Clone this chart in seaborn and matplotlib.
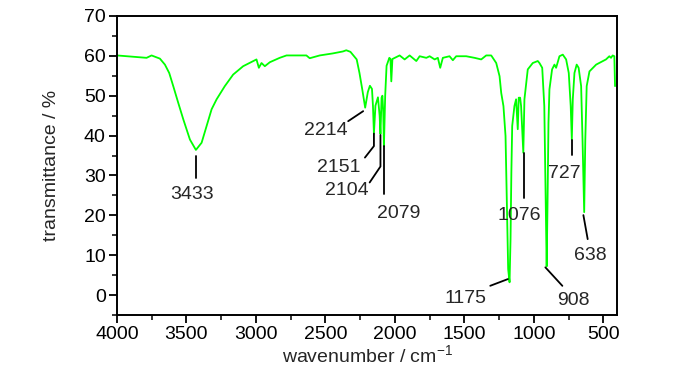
import matplotlib
matplotlib.use("Agg")
import matplotlib.pyplot as plt
import pandas as pd
import seaborn as sb
from matplotlib.ticker import MultipleLocator

# IR spectrum
wavenumber = [4000, 3787, 3751, 3691, 3655, 3624, 3595, 3559, 3523, 3475,
              3432, 3391, 3355, 3319, 3283, 3224, 3164, 3092, 2996, 2979,
              2960, 2936, 2900, 2829, 2780, 2637, 2613, 2541, 2448, 2374,
              2350, 2320, 2275, 2255, 2235, 2214, 2195, 2180, 2165, 2158,
              2151, 2140, 2122, 2110, 2104, 2096, 2090, 2084, 2079, 2070,
              2060, 2040, 2032, 2026, 2018, 1966, 1930, 1894, 1846, 1822,
              1774, 1750, 1714, 1691, 1674, 1655, 1607, 1583, 1559, 1487,
              1427, 1379, 1343, 1307, 1271, 1247, 1235, 1219, 1204, 1195,
              1185, 1175, 1168, 1162, 1156, 1140, 1128, 1116, 1109, 1099,
              1092, 1076, 1068, 1044, 1008, 972, 960, 940, 925, 918,
              908, 902, 895, 888, 869, 852, 840, 816, 792, 768,
              749, 735, 727, 720, 708, 692, 678, 660, 650, 638,
              630, 620, 600, 552, 481, 457, 445, 433, 421, 416]
transmittance = [60.1, 59.5, 60.1, 59.3, 57.8, 55.7, 52.4, 48.2, 44.1, 39.0,
                 36.4, 38.2, 42.4, 46.6, 49.1, 52.4, 55.3, 57.4, 59.1, 57.0,
                 58.2, 57.4, 58.4, 59.5, 60.1, 60.1, 59.4, 60.1, 60.6, 61.1,
                 61.4, 61.0, 59.1, 55.7, 51.6, 47.0, 50.9, 52.5, 51.7, 47.5,
                 40.5, 47.5, 49.6, 45.0, 40.4, 49.5, 50.0, 46.0, 37.3, 50.0,
                 57.5, 59.5, 59.2, 53.6, 59.2, 60.1, 59.1, 60.1, 58.7, 59.9,
                 59.5, 59.9, 59.1, 59.5, 57.0, 59.5, 59.9, 58.9, 59.9, 59.9,
                 59.5, 59.1, 60.1, 60.1, 58.2, 54.9, 50.7, 47.4, 39.9, 24.0,
                 6.5, 3.2, 14.0, 30.8, 42.4, 47.4, 49.1, 41.6, 49.5, 49.5,
                 47.4, 35.7, 49.1, 56.6, 58.2, 58.7, 58.2, 57.0, 47.4, 30.7,
                 7.2, 22.4, 43.2, 51.6, 56.6, 57.8, 57.0, 59.9, 60.3, 59.1,
                 55.7, 47.4, 39.0, 49.1, 55.7, 57.8, 57.0, 52.4, 39.0, 20.8,
                 39.0, 52.4, 56.1, 57.8, 59.1, 59.9, 59.5, 60.1, 59.9, 52.4]

# labelled peaks
peak_labels = ["3433", "2214", "2151", "2104", "2079", "1175", "1076", "908", "727", "638"]
peak_wn = [3433, 2214, 2151, 2104, 2079, 1175, 1076, 908, 727, 638]
peak_t = [36.4, 47.0, 40.5, 40.4, 37.3, 3.2, 35.7, 7.2, 39.0, 20.8]

# leader lines and label centres, pixel offsets from the peak (y down)
leaders = [[(0, 6), (0, 28)],
           [(-2, 3.5), (-17, 13.5)],
           [(0, 0), (0, 12.5), (-9, 24)],
           [(0, 1), (0, 32.5), (-10.8, 48.5)],
           [(0, 0), (0, 48)],
           [(-1.7, -3.2), (-19.3, 3.5)],
           [(0.5, 0), (0.5, 45)],
           [(-1.3, 1), (15.7, 19.5)],
           [(0, 0), (0, 15)],
           [(-0.8, 3), (3.5, 27)]]
text_offsets = [(-4.2, 41.8), (-39.8, 19.8), (-35.3, 30.8), (-33.3, 54.1), (15.2, 64.7),
                (-43.8, 13.5), (-3.8, 59.9), (27, 31.1), (-7.4, 31.5), (5.9, 40.4)]

sb.set_style("ticks")
plt.rcParams["font.family"] = ["Liberation Sans", "DejaVu Sans"]
plt.rcParams["mathtext.fontset"] = "custom"
plt.rcParams["mathtext.rm"] = "Liberation Sans"
plt.rcParams["mathtext.default"] = "regular"
fs = 14

df = pd.DataFrame({"wavenumber": wavenumber, "transmittance": transmittance})

fig = plt.figure(figsize=(7, 3.74), dpi=100)
ax = fig.add_axes([0.1671, 0.1578, 0.7147, 0.7995])
sb.lineplot(data=df, x="wavenumber", y="transmittance", color="#00ff00",
            lw=1.3, estimator=None, sort=False, ax=ax)

ax.set_xlim(4000, 400)
ax.set_ylim(-5, 70)
ax.xaxis.set_major_locator(MultipleLocator(500))
ax.xaxis.set_minor_locator(MultipleLocator(250))
ax.yaxis.set_major_locator(MultipleLocator(10))
ax.yaxis.set_minor_locator(MultipleLocator(5))
ax.tick_params(which="major", length=6, width=1.3, labelsize=fs, pad=2, colors="black")
ax.tick_params(which="minor", length=3.5, width=1.3)
for s in ax.spines.values():
    s.set_linewidth(1.4)
    s.set_color("black")
ax.set_xlabel("wavenumber / cm$^{-1}$", fontsize=fs, labelpad=1)
ax.set_ylabel("transmittance / %", fontsize=fs, labelpad=17)


def shift(x, y, dx, dy):
    X, Y = ax.transData.transform((x, y))
    return ax.transData.inverted().transform((X + dx, Y - dy))


for lab, wn, t, path, (tx, ty) in zip(peak_labels, peak_wn, peak_t, leaders, text_offsets):
    pts = [shift(wn, t, dx, dy) for dx, dy in path]
    ax.plot([p[0] for p in pts], [p[1] for p in pts], color="black", lw=1.3)
    px, py = shift(wn, t, tx, ty + 7.2)
    ax.text(px, py, lab, ha="center", va="baseline", fontsize=fs)

fig.savefig("out.png", dpi=100)
